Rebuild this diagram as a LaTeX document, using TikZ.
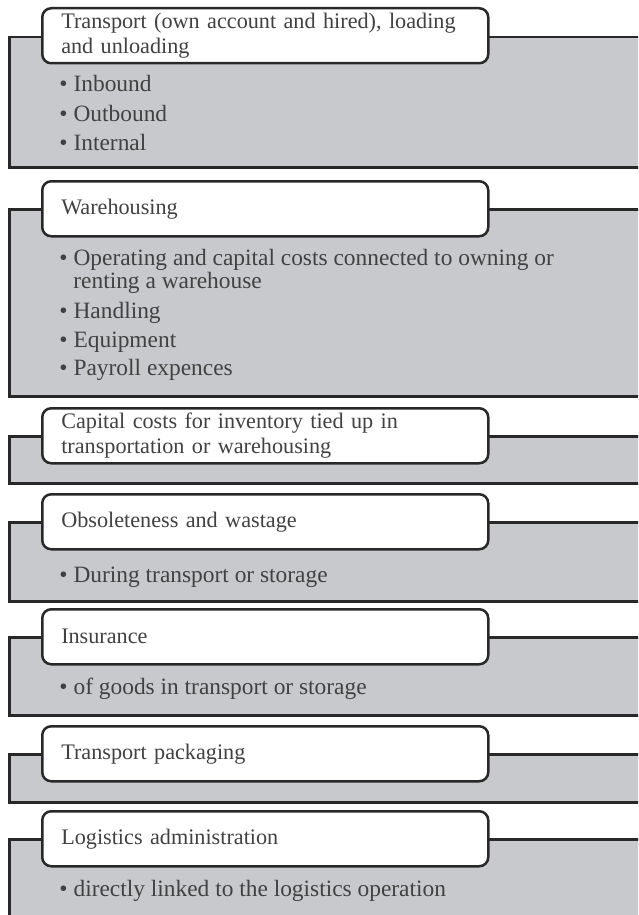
\documentclass[tikz,border=0pt]{standalone}
\usepackage{fontspec}
\setmainfont{Liberation Serif}
\hyphenpenalty=10000
\definecolor{panelgray}{RGB}{200,201,204}
\definecolor{edge}{RGB}{40,40,40}
\definecolor{ink}{RGB}{65,65,65}
\tikzset{
  panel/.style={shape=rectangle,draw=edge,fill=panelgray,line width=1.25pt,
    anchor=north west,minimum width=321pt,inner sep=0pt},
  head/.style={shape=rectangle,draw=edge,fill=white,line width=1.25pt,
    rounded corners=4.5pt,anchor=north west,minimum height=27.5pt,
    text width=204pt,inner xsep=9.5pt,inner ysep=0pt,align=left,
    font=\fontsize{11.1}{12.5}\selectfont,text=ink},
  item/.style={anchor=base west,inner sep=0pt,
    font=\fontsize{11.7}{12.5}\selectfont,text=ink}
}
\newcommand{\bul}{\textbullet\hspace{3pt}}
\begin{document}
\begin{tikzpicture}[x=0.5pt,y=-0.5pt]
\useasboundingbox (0,0) rectangle (638,915);
\clip (0,0) rectangle (638,915);
% grey panels
\node (p1) at (8, 36) [panel,minimum height=65pt] {};
\node (p2) at (8,208) [panel,minimum height=93.5pt] {};
\node (p3) at (8,435) [panel,minimum height=23.5pt] {};
\node (p4) at (8,521) [panel,minimum height=39.5pt] {};
\node (p5) at (8,636) [panel,minimum height=39pt] {};
\node (p6) at (8,753) [panel,minimum height=24pt] {};
\node (p7) at (8,838) [panel,minimum height=60pt] {};
% headings
\node (h1) at (41,  7) [head] {Transport (own account and hired), loading\\and unloading};
\node (h2) at (41,180) [head] {Warehousing};
\node (h3) at (41,407) [head] {Capital costs for inventory tied up in\\transportation or warehousing};
\node (h4) at (41,493) [head] {Obsoleteness and wastage};
\node (h5) at (41,608) [head] {Insurance};
\node (h6) at (41,725) [head] {Transport packaging};
\node (h7) at (41,810) [head] {Logistics administration};
% bullet lines
\node (i11) at (59, 92) [item] {\bul Inbound};
\node (i12) at (59,121) [item] {\bul Outbound};
\node (i13) at (59,150) [item] {\bul Internal};
\node (i21) at (59,265) [item] {\bul Operating and capital costs connected to owning or};
\node (i2c) at (73,288) [item] {renting a warehouse};
\node (i22) at (59,318) [item] {\bul Handling};
\node (i23) at (59,347) [item] {\bul Equipment};
\node (i24) at (59,375) [item] {\bul Payroll expences};
\node (i41) at (59,582) [item] {\bul During transport or storage};
\node (i51) at (59,694) [item] {\bul of goods in transport or storage};
\node (i71) at (59,896) [item] {\bul directly linked to the logistics operation};
\end{tikzpicture}
\end{document}
